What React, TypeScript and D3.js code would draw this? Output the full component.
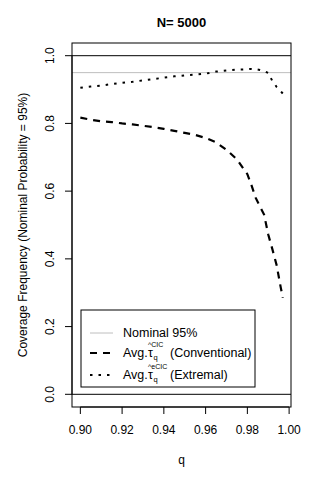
import React from 'react';
import * as d3 from 'd3';

const qValues = [
  0.900, 0.905, 0.910, 0.915, 0.920, 0.925, 0.930, 0.935, 0.940, 0.945,
  0.950, 0.955, 0.960, 0.965, 0.970, 0.975, 0.980, 0.982, 0.984, 0.986,
  0.988, 0.990, 0.992, 0.994, 0.996, 0.997
];
const conventional = [
  0.817, 0.811, 0.806, 0.804, 0.800, 0.797, 0.793, 0.789, 0.784, 0.778,
  0.772, 0.766, 0.757, 0.744, 0.722, 0.694, 0.650, 0.617, 0.580, 0.555,
  0.531, 0.472, 0.428, 0.382, 0.315, 0.285
];
const extremal = [
  0.905, 0.909, 0.912, 0.916, 0.920, 0.923, 0.927, 0.931, 0.935, 0.939,
  0.942, 0.944, 0.947, 0.953, 0.956, 0.959, 0.960, 0.961, 0.960, 0.958,
  0.955, 0.949, 0.925, 0.908, 0.895, 0.888
];
const xTicks = [0.90, 0.92, 0.94, 0.96, 0.98, 1.00];
const yTicks = [0.0, 0.2, 0.4, 0.6, 0.8, 1.0];
const nominal = 0.95;

const W = 320, H = 480;
const box = { left: 72, right: 291, top: 43, bottom: 407 };
const font = '"Liberation Sans", Arial, sans-serif';

function TauLabel({ yb, sup, name }: { yb: number; sup: string; name: string }) {
  // one text element: "Avg. τ" with hat+superscript above and q below
  return (
    <text y={yb} fontSize={12.5}>
      <tspan x={123}>Avg.</tspan>
      <tspan x={148}>τ</tspan>
      <tspan x={148} dy={-10.5} fontSize={7}>{sup}</tspan>
      <tspan x={153.5} dy={13.5} fontSize={7.5}>q</tspan>
      <tspan x={170} dy={-3}>{name}</tspan>
    </text>
  );
}

export default function App() {
  const x = d3.scaleLinear().domain([0.896, 1.0009]).range([box.left, box.right]);
  const y = d3.scaleLinear().domain([-0.0375, 1.0375]).range([box.bottom, box.top]);

  const line = d3.line<number>()
    .x((_, i) => x(qValues[i]))
    .y(d => y(d));

  const lx = 81, ly = 310, lw = 174, lh = 77;

  return (
    <div style={{ position: 'fixed', left: 0, top: 0 }}>
      <svg width={W} height={H} style={{ display: 'block', background: 'white' }} fontFamily={font}>
        <rect width={W} height={H} fill="white" />
        {/* title */}
        <text x={(box.left + box.right) / 2} y={27} textAnchor="middle" fontSize={13} fontWeight="bold">N= 5000</text>

        {/* reference lines */}
        <line x1={box.left} x2={box.right} y1={y(1)} y2={y(1)} stroke="black" strokeWidth={1} />
        <line x1={box.left} x2={box.right} y1={y(0)} y2={y(0)} stroke="black" strokeWidth={1} />
        <line x1={box.left} x2={box.right} y1={y(nominal)} y2={y(nominal)} stroke="#bebebe" strokeWidth={1} />

        {/* series */}
        <path d={line(conventional) || ''} fill="none" stroke="black" strokeWidth={2.2} strokeDasharray="7,6" />
        <path d={line(extremal) || ''} fill="none" stroke="black" strokeWidth={2} strokeDasharray="2.5,6" />

        {/* box */}
        <rect x={box.left} y={box.top} width={box.right - box.left} height={box.bottom - box.top} fill="none" stroke="black" strokeWidth={1} />

        {/* x axis */}
        <line x1={x(0.90)} x2={x(1.00)} y1={box.bottom} y2={box.bottom} stroke="black" />
        {xTicks.map(t => (
          <g key={t}>
            <line x1={x(t)} x2={x(t)} y1={box.bottom} y2={box.bottom + 7} stroke="black" />
            <text x={x(t)} y={434} textAnchor="middle" fontSize={12}>{t.toFixed(2)}</text>
          </g>
        ))}
        <text x={(box.left + box.right) / 2} y={464} textAnchor="middle" fontSize={12}>q</text>

        {/* y axis */}
        <line x1={box.left} x2={box.left} y1={y(0)} y2={y(1)} stroke="black" />
        {yTicks.map(t => (
          <g key={t}>
            <line x1={box.left - 7} x2={box.left} y1={y(t)} y2={y(t)} stroke="black" />
            <text transform={`translate(54,${y(t)}) rotate(-90)`} textAnchor="middle" fontSize={12}>{t.toFixed(1)}</text>
          </g>
        ))}
        <text transform={`translate(27,${(box.top + box.bottom) / 2}) rotate(-90)`} textAnchor="middle" fontSize={12}>
          Coverage Frequency (Nominal Probability = 95%)
        </text>

        {/* legend */}
        <rect x={lx} y={ly} width={lw} height={lh} fill="white" stroke="black" strokeWidth={1} />
        <line x1={90} x2={113} y1={333} y2={333} stroke="#bebebe" strokeWidth={1} />
        <text x={123} y={337} fontSize={12.5}>Nominal 95%</text>

        <line x1={90} x2={113} y1={353} y2={353} stroke="black" strokeWidth={2.2} strokeDasharray="7,6" />
        <TauLabel yb={357} sup="^CIC" name="(Conventional)" />

        <line x1={90} x2={113} y1={375} y2={375} stroke="black" strokeWidth={2} strokeDasharray="2.5,6" />
        <TauLabel yb={379} sup="^eCIC" name="(Extremal)" />
      </svg>
    </div>
  );
}
